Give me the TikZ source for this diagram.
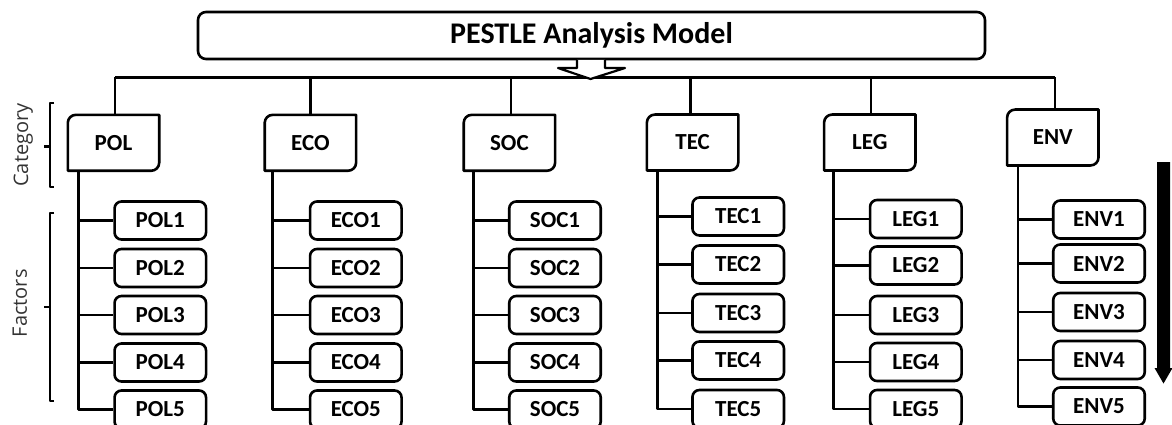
\documentclass[tikz,border=0pt]{standalone}
\usepackage{fontspec}
\setmainfont{Carlito}
\newfontfamily\labfont{Open Sans}
\usetikzlibrary{calc}
\newcommand{\catframe}[1]{%
  \draw[conn] (#1.south west) -- ([yshift=-8pt]#1.north west)
    .. controls ([yshift=-3.6pt]#1.north west) and ([xshift=3.6pt]#1.north west) .. ([xshift=8pt]#1.north west)
    -- (#1.north east) -- ([yshift=8pt]#1.south east)
    .. controls ([yshift=3.6pt]#1.south east) and ([xshift=-3.6pt]#1.south east) .. ([xshift=-8pt]#1.south east)
    -- cycle;}
\begin{document}
\begin{tikzpicture}[x=1pt,y=-1pt,line join=round,
  conn/.style={line width=2.6pt},
  titlebox/.style={draw,line width=2.6pt,rounded corners=8pt,minimum width=787pt,minimum height=47pt,inner sep=0pt,font=\bfseries\fontsize{30}{36}\selectfont},
  catbox/.style={minimum width=91pt,minimum height=55.5pt,inner sep=0pt,font=\bfseries\fontsize{23}{27}\selectfont},
  factbox/.style={draw,line width=2.6pt,rounded corners=7pt,minimum width=91.5pt,minimum height=38pt,inner sep=0pt,font=\bfseries\fontsize{23}{27}\selectfont},
  bracket/.style={line width=2.3pt},
  sidelabel/.style={rotate=90,anchor=base,text=black!80,font=\labfont\fontsize{20}{24}\selectfont},
  hollow/.style={line width=2.2pt,fill=white},
]
\path[use as bounding box] (0,0) rectangle (1172,425);
\clip (0,0) rectangle (1172,425);

\node[titlebox] (title) at (591.5,35.5) {PESTLE Analysis Model};

% category boxes
\foreach \n/\lab/\cx/\cy in {pol/POL/113.5/142.8, eco/ECO/310.4/142.8, soc/SOC/509.4/142.8, tec/TEC/692.6/142.5, leg/LEG/869.8/142.5, env/ENV/1052.8/137.5}{
  \node[catbox] (\n) at (\cx,\cy) {\lab};
}

% bus and drops
\coordinate (bus) at (0,77.5);
\foreach \n/\dx in {pol/1.5, eco/0, soc/1.6, tec/-2, leg/1, env/2.2}{
  \coordinate (\n D) at ($(\n.north)+(\dx,0)$);
}
\draw[conn] (polD |- bus) -- (envD |- bus);
\foreach \n in {pol,eco,soc,tec,leg,env}{
  \draw[conn] (\n D |- bus) -- (\n D);
}

% hollow arrow below the title
\draw[hollow] (577,60) -- (577,68) -- (558,68) -- (590.5,79) -- (625,68) -- (605,68) -- (605,60);

% category frames
\foreach \n in {pol,eco,soc,tec,leg,env}{
  \catframe{\n}
}

% factor columns
\foreach \n/\lab/\tx/\cx/\ya/\yb/\yc/\yd/\ye in {
  pol/POL/78.5/160.3/220.5/268/315/362.5/409.5,
  eco/ECO/272.5/355.8/220.5/268/315/362.5/409.5,
  soc/SOC/473.4/555/220.5/268/315/362.5/409.5,
  tec/TEC/657.4/738.2/216.5/264.5/313/360.5/409,
  leg/LEG/833.7/915.8/219/265.5/315/362/409,
  env/ENV/1018/1099/219.5/263.5/312/360/406.5}{
  \coordinate (\n T) at (\tx,0);
  \foreach \i/\y in {1/\ya,2/\yb,3/\yc,4/\yd,5/\ye}{
    \node[factbox] (\n\i) at (\cx,\y) {\lab\i};
  }
  \draw[conn] (\n T |- \n.south) |- (\n5.west);
  \foreach \i in {1,2,3,4}{
    \draw[conn] (\n T |- \n\i.west) -- (\n\i.west);
  }
}

% brackets and side labels
\draw[bracket] (54,103.3) -- (50,103.3) -- (50,186.7) -- (54,186.7);
\draw[bracket] (50,146.5) -- (43.5,146.5);
\draw[bracket] (54,213) -- (50,213) -- (50,401) -- (54,401);
\draw[bracket] (50,306.7) -- (43.5,306.7);
\node[sidelabel] (catlab) at (28,145) {Category};
\node[sidelabel] (faclab) at (27,303.3) {Factors};

% black down arrow at the right
\fill (1157,162) -- (1170,162) -- (1170,368) -- (1172.5,368) -- (1163.5,383.5) -- (1154.5,368) -- (1157,368) -- cycle;
\end{tikzpicture}
\end{document}
